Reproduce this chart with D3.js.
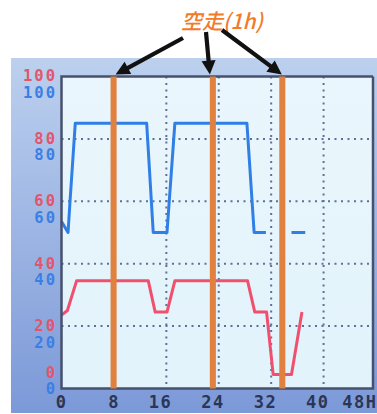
<!DOCTYPE html>
<html>
<head>
<meta charset="utf-8">
<script src="https://cdn.jsdelivr.net/npm/d3@7/dist/d3.min.js"></script>
<style>
  html, body { margin: 0; padding: 0; background: #ffffff; }
  svg { display: block; }
</style>
</head>
<body>
<script>
// Hour ticks along the bottom and value ticks shared by both traces
const hourTicks = [0, 8, 16, 24, 32, 40, 48];
const hourLabels = ["0", "8", "16", "24", "32", "40", "48H"];
const valueTicks = [0, 20, 40, 60, 80, 100];

// Blue trace (null marks the break in the record)
const blueHours  = [0, 1.0, 1.3, 2.1, 13.0, 14.0, 16.1, 17.3, 28.3, 29.4, 31.2, 33.0, 35.1, 37.2];
const blueValues = [53.5, 50, 60, 85, 85, 50, 50, 85, 85, 50, 50, null, 50, 50];

// Red trace
const redHours  = [0, 0.9, 2.3, 13.25, 14.3, 16.1, 17.3, 28.4, 29.5, 31.3, 32.3, 35.1, 36.7];
const redValues = [23.5, 25, 34.5, 34.5, 24.5, 24.5, 34.5, 34.5, 24.5, 24.5, 4.5, 4.5, 24.5];

// Idle-running marks (hour at the centre of each 1h mark)
const idleHours = [7.95, 23.1, 33.7];
const idleTitle = "空走(1h)";

const W = 377, H = 414;
const panel = { x: 11, y: 58, w: 380, h: 355 };
const plot = { left: 61.5, top: 76.5, right: 373, bottom: 388.5 };

const svg = d3.select("body").append("svg")
  .attr("width", W).attr("height", H);

const defs = svg.append("defs");
const pg = defs.append("linearGradient").attr("id", "panelGrad")
  .attr("x1", 0).attr("y1", 0).attr("x2", 0).attr("y2", 1);
pg.append("stop").attr("offset", "0%").attr("stop-color", "#bcd0ee");
pg.append("stop").attr("offset", "100%").attr("stop-color", "#7c99d8");
const ag = defs.append("linearGradient").attr("id", "plotGrad")
  .attr("x1", 0).attr("y1", 0).attr("x2", 0).attr("y2", 1);
ag.append("stop").attr("offset", "0%").attr("stop-color", "#eaf6fc");
ag.append("stop").attr("offset", "100%").attr("stop-color", "#e2f3fb");

const x = d3.scaleLinear().domain([0, 48]).range([plot.left, 376]);
const y = d3.scaleLinear().domain([0, 100]).range([plot.bottom, plot.top]);

// Instrument panel background
svg.append("rect")
  .attr("x", panel.x).attr("y", panel.y)
  .attr("width", panel.w).attr("height", panel.h)
  .attr("fill", "url(#panelGrad)");

// Plot area
svg.append("rect")
  .attr("x", plot.left).attr("y", plot.top)
  .attr("width", plot.right - plot.left).attr("height", plot.bottom - plot.top)
  .attr("fill", "url(#plotGrad)");

// Dotted grid
const grid = svg.append("g")
  .attr("stroke", "#5f6f98").attr("stroke-width", 2)
  .attr("stroke-dasharray", "2,4.5");
grid.selectAll("line.h").data(valueTicks.filter(v => v > 0 && v < 100))
  .join("line").attr("class", "h")
  .attr("x1", plot.left).attr("x2", plot.right)
  .attr("y1", d => y(d)).attr("y2", d => y(d));
grid.selectAll("line.v").data(hourTicks.filter(h => h > 0 && x(h) < plot.right))
  .join("line").attr("class", "v")
  .attr("y1", plot.top).attr("y2", plot.bottom)
  .attr("x1", d => x(d)).attr("x2", d => x(d));

// Traces
const pts = (hs, vs) => hs.map((h, i) => ({ h, v: vs[i] }));
const line = d3.line()
  .defined(d => d.v !== null)
  .x(d => x(d.h)).y(d => y(d.v));

svg.append("path")
  .datum(pts(blueHours, blueValues))
  .attr("d", line)
  .attr("fill", "none").attr("stroke", "#2f7fe6")
  .attr("stroke-width", 3).attr("stroke-linejoin", "round");

svg.append("path")
  .datum(pts(redHours, redValues))
  .attr("d", line)
  .attr("fill", "none").attr("stroke", "#f0506e")
  .attr("stroke-width", 3).attr("stroke-linejoin", "round");

// Plot frame
svg.append("path")
  .attr("d", `M${plot.right},${plot.top}H${plot.left}V${plot.bottom}H${plot.right}V${plot.top}`)
  .attr("fill", "none").attr("stroke", "#46516e").attr("stroke-width", 2.5);

// Idle-running marks, one hour wide
const idleW = x(1) - x(0) - 0.5;
svg.append("g").selectAll("rect").data(idleHours).join("rect")
  .attr("x", d => x(d) - idleW / 2).attr("width", idleW)
  .attr("y", plot.top).attr("height", plot.bottom - plot.top)
  .attr("fill", "#e0813f");

// Value labels: red above, blue below (the 0 pair is lifted above the baseline)
const labelFont = "'DejaVu Sans Mono', monospace";
const redShift = v => v === 0 ? -16 : v === 100 ? -0.5 : 0;
const blueShift = v => v === 0 ? 0.5 : 16.5;
const yl = svg.append("g")
  .attr("font-family", labelFont).attr("font-weight", "bold")
  .attr("font-size", 15.5).attr("letter-spacing", 2)
  .attr("text-anchor", "end").attr("dominant-baseline", "central");
yl.selectAll("text.red").data(valueTicks).join("text").attr("class", "red")
  .attr("x", 57).attr("y", d => y(d) + redShift(d))
  .attr("fill", "#e0566c").text(d => d);
yl.selectAll("text.blue").data(valueTicks).join("text").attr("class", "blue")
  .attr("x", 57).attr("y", d => y(d) + blueShift(d))
  .attr("fill", "#3a7fe4").text(d => d);

// Hour labels (the last one is kept inside the panel edge)
svg.append("g")
  .attr("font-family", labelFont).attr("font-weight", "bold")
  .attr("font-size", 17).attr("letter-spacing", 1.5)
  .attr("text-anchor", "end").attr("dominant-baseline", "central")
  .attr("fill", "#2c3654")
  .selectAll("text").data(hourTicks).join("text")
  .attr("x", d => Math.min(x(d) + 6, W + 0.5)).attr("y", 402)
  .text((d, i) => hourLabels[i]);

// Title and arrows pointing at the idle marks
svg.append("text")
  .attr("x", 222).attr("y", 29)
  .attr("text-anchor", "middle")
  .attr("font-family", "'Noto Sans CJK JP', sans-serif")
  .attr("font-style", "italic").attr("font-weight", 500).attr("font-size", 21)
  .attr("fill", "#f27b2a")
  .text(idleTitle);

const tails = [[183, 38], [206, 32], [222, 30]];
const tipOffsets = [2, -3, -0.5];
const arrows = svg.append("g");
idleHours.forEach((h, i) => {
  const [tx, ty] = tails[i];
  const hx = x(h) + tipOffsets[i], hy = plot.top - 2;
  const dx = hx - tx, dy = hy - ty, len = Math.hypot(dx, dy);
  const ux = dx / len, uy = dy / len;
  const headL = 14, headW = 7;
  const bx = hx - ux * headL, by = hy - uy * headL;
  arrows.append("line")
    .attr("x1", tx).attr("y1", ty).attr("x2", bx + ux * 2).attr("y2", by + uy * 2)
    .attr("stroke", "#111").attr("stroke-width", 4.2);
  arrows.append("path")
    .attr("d", `M${hx},${hy}L${bx - uy * headW},${by + ux * headW}L${bx + uy * headW},${by - ux * headW}Z`)
    .attr("fill", "#111");
});
</script>
</body>
</html>
